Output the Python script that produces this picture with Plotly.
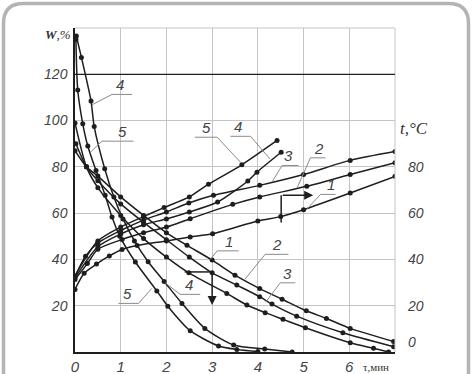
import plotly.graph_objects as go

# ---------------- data ----------------
# drying curves W(τ), %
w1_x = [0, 0.25, 0.5, 1.0, 1.5, 2.0, 2.45, 3.0, 3.5, 4.04, 4.53, 5.06, 5.5, 6.02, 6.97]
w1_y = [87, 80, 76, 67, 59, 51.5, 46.1, 39.7, 33.2, 27.4, 22.8, 17.8, 14.5, 10.2, 4.5]
w2_x = [0.02, 0.25, 0.5, 1.0, 1.5, 2.0, 2.5, 3.0, 3.54, 4.04, 4.31, 4.85, 5.86, 6.97]
w2_y = [90, 80, 74, 64, 56, 48.5, 41, 34.2, 28.9, 23.9, 20.7, 15.5, 8.3, 2.3]
w3_x = [0, 0.25, 0.5, 1.0, 1.5, 2.0, 2.49, 3.32, 3.76, 4.16, 4.55, 5.04, 6.02, 6.53, 6.86]
w3_y = [99, 80, 71, 59, 49, 41, 34.2, 25.3, 20.3, 17.0, 14.1, 10.5, 4.0, 1.6, 0]
w4_x = [0.03, 0.14, 0.35, 0.42, 0.65, 0.85, 1.05, 1.3, 1.6, 1.95, 2.34, 2.84, 3.47, 4.15, 4.75]
w4_y = [136.5, 127.3, 108.5, 97.4, 79.2, 67, 57.5, 48, 39, 30.5, 21, 10.2, 3.0, 1.3, 0]
w5_x = [0.02, 0.06, 0.17, 0.28, 0.46, 0.66, 0.81, 0.98, 1.32, 1.79, 2.03, 2.52, 3.14, 3.54, 4.0]
w5_y = [135, 113.2, 98.6, 89, 78.4, 67.7, 58.3, 50, 38.9, 26.4, 19.8, 9.2, 2.6, 1.1, 0.2]

# temperature curves t(τ), °C
t1_x = [0, 0.2, 0.47, 0.75, 1.03, 1.36, 2.0, 2.52, 3.01, 4.0, 4.5, 5.0, 6.02, 7.0]
t1_y = [27, 34, 38, 41.5, 44.3, 46, 48, 49.7, 51.1, 56.6, 58.5, 61.5, 68.7, 75.9]
t2_x = [0, 0.27, 0.5, 1.03, 1.5, 2.0, 2.52, 3.45, 4.04, 5.07, 6.02, 7.0]
t2_y = [31.3, 38.2, 44.4, 48.6, 51.5, 54, 57.6, 63.8, 67, 71.6, 76.7, 81.8]
t3_x = [0, 0.23, 0.5, 1.0, 1.5, 2.0, 2.49, 3.03, 4.04, 5.0, 6.02, 7.0]
t3_y = [32.5, 41.4, 47.1, 52.5, 57, 60.5, 64.4, 67.7, 72, 76.7, 82.8, 86.6]
t4_x = [0, 0.5, 1.0, 1.5, 2.0, 2.5, 3.12, 3.78, 3.98, 4.51]
t4_y = [32, 45.5, 51, 55, 57.5, 60.5, 64.8, 73.9, 77.7, 86.3]
t5_x = [0, 0.5, 1.0, 1.5, 1.95, 2.5, 2.92, 3.65, 4.42]
t5_y = [33, 48, 54, 58.5, 62.4, 67, 72.5, 80.9, 91.4]

# axis ticks
x_ticks = [0, 1, 2, 3, 4, 5, 6]
w_ticks = [20, 40, 60, 80, 100, 120]
t_tick_pos = [4.3, 20, 40, 60, 80]
t_tick_text = ["0", "20", "40", "60", "80"]

# ---------------- figure ----------------
W, H = 473, 374
ML, MR, MT, MB = 75, 78, 28, 22
PW, PH = W - ML - MR, H - MT - MB

def px(x):
    return (x - ML) / PW

def py(y):
    return (H - MB - y) / PH

INK = "#1e1e1e"
fig = go.Figure()

def add_curve(xs, ys, axis):
    fig.add_trace(go.Scatter(
        x=xs, y=ys, mode="lines+markers", yaxis=axis,
        line=dict(color=INK, width=1.5, shape="spline", smoothing=0.7),
        marker=dict(color=INK, size=5),
        showlegend=False, hoverinfo="skip"))

for xs, ys in [(w1_x, w1_y), (w2_x, w2_y), (w3_x, w3_y), (w4_x, w4_y), (w5_x, w5_y)]:
    add_curve(xs, ys, "y")
for xs, ys in [(t1_x, t1_y), (t2_x, t2_y), (t3_x, t3_y), (t4_x, t4_y), (t5_x, t5_y)]:
    add_curve(xs, ys, "y2")

tickfont = dict(family="Liberation Sans", size=14, color="#444", style="italic")
GRID = "#c4c4c4"

fig.update_layout(
    width=W, height=H,
    margin=dict(l=ML, r=MR, t=MT, b=MB, autoexpand=False),
    paper_bgcolor="white", plot_bgcolor="white",
    xaxis=dict(range=[0, 7], tickvals=x_ticks, showgrid=True, gridcolor=GRID, gridwidth=1,
               zeroline=False, showline=True, linecolor=INK, linewidth=1.5,
               ticks="", tickfont=dict(family="Liberation Sans", size=15, color="#444", style="italic"),
               ticklabelstandoff=0),
    yaxis=dict(range=[0, 140], tickvals=w_ticks, showgrid=True, gridcolor=GRID, gridwidth=1,
               zeroline=False, showline=True, linecolor=INK, linewidth=1.5,
               ticks="", tickfont=tickfont, ticklabelstandoff=3),
    yaxis2=dict(range=[0, 140], overlaying="y", side="right", tickvals=t_tick_pos,
                ticktext=t_tick_text, showgrid=False, zeroline=False, showline=False,
                ticks="", tickfont=tickfont, ticklabelstandoff=12),
)

shapes = []
# top and right borders of grid, 120 line
shapes.append(dict(type="line", xref="paper", yref="paper", x0=0, x1=1, y0=1, y1=1,
                   line=dict(color=GRID, width=1)))
shapes.append(dict(type="line", xref="paper", yref="paper", x0=1, x1=1, y0=0, y1=1,
                   line=dict(color=GRID, width=1)))
shapes.append(dict(type="line", xref="paper", yref="y", x0=0, x1=1, y0=120, y1=120,
                   line=dict(color=INK, width=1.2)))

# frame with rounded top corners (decoration)
L, R, T, B, r = 3.5, 468.5, 3.5, 395, 20
path = (f"M {px(L)},{py(B)} L {px(L)},{py(T + r)} "
        f"Q {px(L)},{py(T)} {px(L + r)},{py(T)} "
        f"L {px(R - r)},{py(T)} Q {px(R)},{py(T)} {px(R)},{py(T + r)} "
        f"L {px(R)},{py(B)}")
shapes.append(dict(type="path", xref="paper", yref="paper", path=path,
                   line=dict(color="#b4b4b4", width=3.5)))

# curve labels: text, text x, underline y, underline x0, x1, leader start x, leader end (x, y)
labels = [
    ("4", 0.98, 111.3, 0.81, 1.25, 0.81, 0.37, 106.8),
    ("5", 1.03, 91.1, 0.59, 1.28, 0.59, 0.335, 86.3),
    ("5", 2.87, 92.8, 2.62, 3.11, 3.11, 3.63, 81.8),
    ("4", 3.56, 93.2, 3.40, 3.84, 3.84, 4.26, 83.5),
    ("3", 4.67, 80.6, 4.53, 4.89, 4.53, 4.31, 73.4),
    ("2", 5.33, 83.9, 5.15, 5.48, 5.15, 4.86, 71.0),
    ("1", 5.59, 68.1, 5.37, 5.70, 5.37, 5.08, 61.9),
    ("1", 3.36, 43.7, 3.11, 3.58, 3.11, 2.96, 40.0),
    ("2", 4.42, 42.2, 4.16, 4.67, 4.16, 3.72, 31.5),
    ("3", 4.65, 29.9, 4.49, 4.82, 4.49, 4.17, 21.5),
    ("4", 2.49, 24.9, 2.30, 2.74, 2.30, 1.98, 29.8),
    ("5", 1.14, 21.0, 0.95, 1.39, 1.39, 1.68, 27.5),
]
LEAD = "#8a8a8a"
annotations = []
for txt, tx, uy, ux0, ux1, lsx, lex, ley in labels:
    shapes.append(dict(type="line", xref="x", yref="y", x0=ux0, x1=ux1, y0=uy, y1=uy,
                       line=dict(color=LEAD, width=1)))
    shapes.append(dict(type="line", xref="x", yref="y", x0=lsx, x1=lex, y0=uy, y1=ley,
                       line=dict(color=LEAD, width=1)))
    annotations.append(dict(x=tx, y=uy, xref="x", yref="y", text=txt, showarrow=False,
                            xanchor="center", yanchor="bottom", yshift=-1,
                            font=dict(family="Liberation Sans", size=15, color="#444",
                                      style="italic")))

# direction arrows
shapes.append(dict(type="line", xref="x", yref="y", x0=4.51, x1=4.51, y0=56, y1=67.7,
                   line=dict(color=INK, width=1.5)))
annotations.append(dict(x=5.21, y=67.7, ax=4.51, ay=67.7, xref="x", yref="y",
                        axref="x", ayref="y", showarrow=True, arrowhead=2, arrowsize=1.2,
                        arrowwidth=1.5, arrowcolor=INK, text=""))
shapes.append(dict(type="line", xref="x", yref="y", x0=2.40, x1=3.0, y0=34.6, y1=34.6,
                   line=dict(color=INK, width=1.5)))
annotations.append(dict(x=3.0, y=20.3, ax=3.0, ay=34.6, xref="x", yref="y",
                        axref="x", ayref="y", showarrow=True, arrowhead=2, arrowsize=1.2,
                        arrowwidth=1.5, arrowcolor=INK, text=""))

# axis titles
annotations.append(dict(x=px(58), y=py(35), xref="paper", yref="paper", text="<b>W</b>,%",
                        showarrow=False, xanchor="center", yanchor="middle",
                        font=dict(family="Liberation Serif", size=13, color="#333",
                                  style="italic")))
annotations.append(dict(x=px(414), y=py(128), xref="paper", yref="paper", text="t,°C",
                        showarrow=False, xanchor="center", yanchor="middle",
                        font=dict(family="Liberation Serif", size=17, color="#333",
                                  style="italic")))
annotations.append(dict(x=px(376), y=py(367), xref="paper", yref="paper", text="τ,мин",
                        showarrow=False, xanchor="center", yanchor="middle",
                        font=dict(family="Liberation Serif", size=11, color="#333")))

fig.update_layout(shapes=shapes, annotations=annotations)
fig.write_html("out.html", config={"displayModeBar": False},
               post_script="document.body.style.margin='0';")
